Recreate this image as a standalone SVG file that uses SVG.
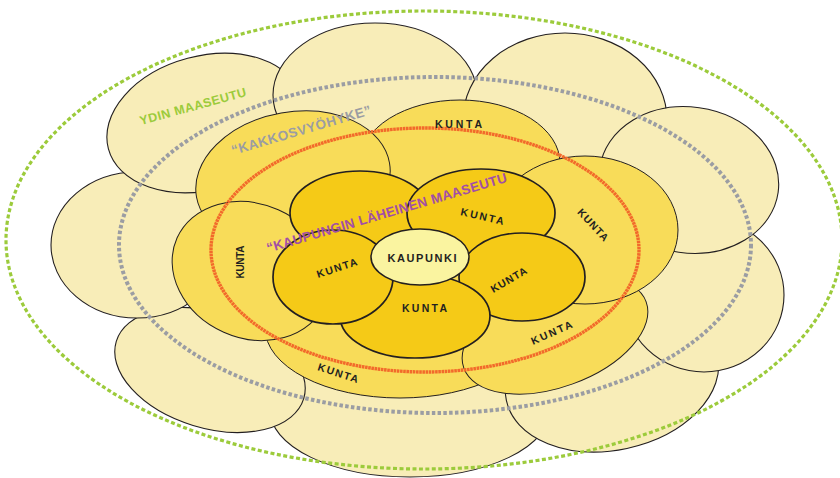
<svg xmlns="http://www.w3.org/2000/svg" width="840" height="478" viewBox="0 0 840 478">
  <style>
    .outer { fill: #F8EDB8; stroke: #231F20; stroke-width: 1.1; }
    .mid { fill: #F8DC59; stroke: #231F20; stroke-width: 1; }
    .inner { fill: #F5CA17; stroke: #231F20; stroke-width: 1.7; }
    .core { fill: #FAF4A0; stroke: #231F20; stroke-width: 1.5; }
    .lbl { font-family: "Liberation Sans", Arial, sans-serif; font-weight: bold; font-size: 10.5px; fill: #231F20; text-anchor: middle; }
    .zone { fill: none; }
    .green { stroke: #9CCB3B; stroke-width: 3.2; stroke-dasharray: 4 2.5; }
    .grey { stroke: #9B9DA3; stroke-width: 4; stroke-dasharray: 3.5 2.3; }
    .orange { stroke: #F26A2B; stroke-width: 3.4; stroke-dasharray: 2.6 0.6; }
    .zlbl { font-family: "Liberation Sans", Arial, sans-serif; font-weight: bold; text-anchor: middle; }
  </style>

  <!-- outer ring: core rural area -->
  <g id="outer-ring">
    <g id="outer-s"><ellipse class="outer" cx="410" cy="410" rx="140" ry="67"/></g>
    <g id="outer-sw"><ellipse class="outer" cx="210" cy="370" rx="98" ry="58" transform="rotate(17 210 370)"/></g>
    <g id="outer-se"><ellipse class="outer" cx="612" cy="378" rx="108" ry="72" transform="rotate(-12 612 378)"/></g>
    <g id="outer-w"><ellipse class="outer" cx="137" cy="245" rx="86" ry="73"/></g>
    <g id="outer-e"><ellipse class="outer" cx="704" cy="295" rx="80" ry="77"/></g>
    <g id="outer-nw"><ellipse class="outer" cx="205" cy="123" rx="100" ry="67" transform="rotate(-15 205 123)"/></g>
    <g id="outer-n"><ellipse class="outer" cx="375" cy="95" rx="102" ry="72"/></g>
    <g id="outer-ne"><ellipse class="outer" cx="565" cy="120" rx="102" ry="87"/></g>
    <g id="outer-ene"><ellipse class="outer" cx="689" cy="180" rx="90" ry="73" transform="rotate(8 689 180)"/></g>
  </g>

  <!-- middle ring: municipalities of the second zone -->
  <g id="middle-ring">
    <g id="kunta-mid-s">
      <ellipse class="mid" cx="400" cy="328" rx="135" ry="70"/>
    </g>
    <g id="kunta-mid-se">
      <ellipse class="mid" cx="555" cy="335" rx="97" ry="52" transform="rotate(-20 555 335)"/>
    </g>
    <g id="kunta-mid-n">
      <ellipse class="mid" cx="460" cy="163" rx="100" ry="63"/>
    </g>
    <g id="kunta-mid-ne">
      <ellipse class="mid" cx="585" cy="230" rx="93" ry="74"/>
    </g>
    <g id="kunta-mid-nw">
      <ellipse class="mid" cx="293" cy="180" rx="98" ry="68" transform="rotate(-10 293 180)"/>
    </g>
    <g id="kunta-mid-w">
      <ellipse class="mid" cx="251" cy="271" rx="81" ry="67" transform="rotate(24 251 271)"/>
    </g>
  </g>

  <!-- inner ring: municipalities next to the city -->
  <g id="inner-ring">
    <g id="kunta-in-nw"><ellipse class="inner" cx="360" cy="213" rx="70" ry="42"/></g>
    <g id="kunta-in-ne"><ellipse class="inner" cx="481" cy="213" rx="74" ry="44"/></g>
    <g id="kunta-in-e"><ellipse class="inner" cx="522" cy="277" rx="63" ry="44"/></g>
    <g id="kunta-in-s"><ellipse class="inner" cx="415" cy="316" rx="75" ry="42"/></g>
    <g id="kunta-in-w"><ellipse class="inner" cx="333" cy="277" rx="60" ry="47"/></g>
  </g>

  <!-- the city -->
  <g id="kaupunki">
    <ellipse class="core" cx="420" cy="257" rx="49" ry="28"/>
    <text class="lbl" style="font-size:11px" transform="translate(422 261.5)" textLength="69" lengthAdjust="spacing">KAUPUNKI</text>
  </g>

  <!-- zone boundaries -->
  <g id="zone-boundaries">
    <ellipse class="zone green" cx="424" cy="240" rx="418" ry="229"/>
    <ellipse class="zone grey" cx="435" cy="245" rx="316" ry="168"/>
    <ellipse class="zone orange" cx="425" cy="250" rx="214" ry="122"/>
  </g>

  <!-- municipality labels -->
  <g id="kunta-labels">
    <text class="lbl" transform="translate(481.5 220) rotate(13)" textLength="44" lengthAdjust="spacing">KUNTA</text>
    <text class="lbl" transform="translate(338 271.5) rotate(-18)" textLength="42" lengthAdjust="spacing">KUNTA</text>
    <text class="lbl" transform="translate(424.5 312)" textLength="45" lengthAdjust="spacing">KUNTA</text>
    <text class="lbl" transform="translate(510.5 283) rotate(-30)" textLength="40" lengthAdjust="spacing">KUNTA</text>
    <text class="lbl" transform="translate(458.5 128)" textLength="47" lengthAdjust="spacing">KUNTA</text>
    <text class="lbl" transform="translate(590.4 227.4) rotate(47)" textLength="40" lengthAdjust="spacing">KUNTA</text>
    <text class="lbl" transform="translate(553 336) rotate(-24)" textLength="44" lengthAdjust="spacing">KUNTA</text>
    <text class="lbl" transform="translate(337 376.5) rotate(18)" textLength="42" lengthAdjust="spacing">KUNTA</text>
    <text class="lbl" style="font-size:10px" transform="translate(244 262) rotate(-90)" textLength="33" lengthAdjust="spacing">KUNTA</text>
  </g>

  <!-- zone labels -->
  <g id="zone-labels">
    <text class="zlbl" fill="#9CCB3B" font-size="12.5" transform="translate(194 110.5) rotate(-15.4)" textLength="110" lengthAdjust="spacing">YDIN MAASEUTU</text>
    <text class="zlbl" fill="#9B9DA3" font-size="13.5" transform="translate(302.5 134.6) rotate(-16.4)" textLength="145" lengthAdjust="spacing">“KAKKOSVYÖHYKE”</text>
    <text class="zlbl" fill="#A24FA6" font-size="13.5" transform="translate(388 217.3) rotate(-16.5)" textLength="250" lengthAdjust="spacing">“KAUPUNGIN LÄHEINEN MAASEUTU</text>
  </g>
</svg>
